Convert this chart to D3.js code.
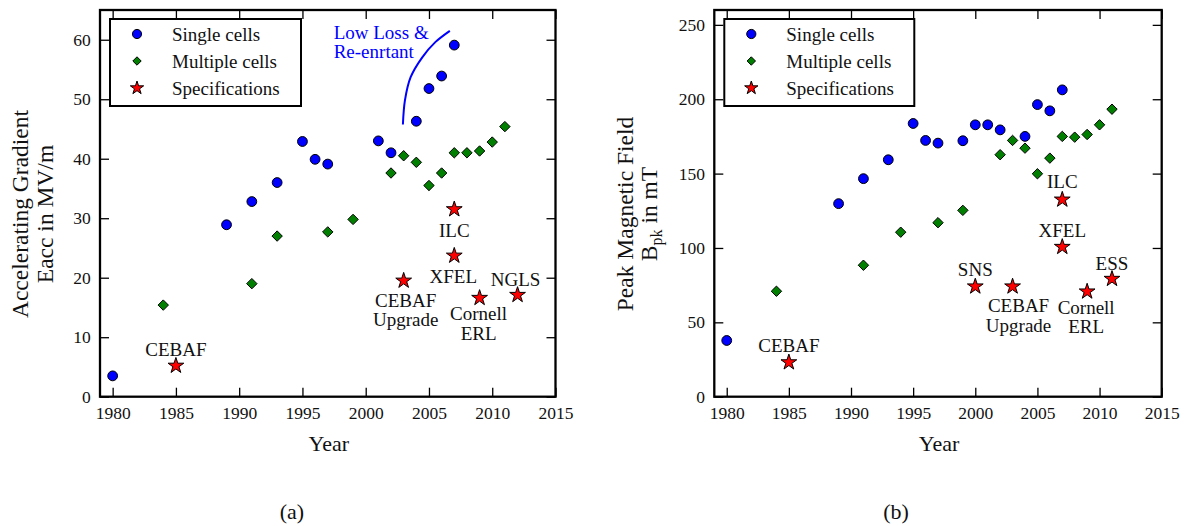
<!DOCTYPE html>
<html>
<head>
<meta charset="utf-8">
<script src="https://cdn.jsdelivr.net/npm/d3@7"></script>
<style>
  body { margin: 0; background: #fff; }
  svg { display: block; }
</style>
</head>
<body>
<svg id="chart" width="1184" height="526"></svg>
<script>
// ---- Panel (a): accelerating gradient, MV/m ----
const singleYearsA = [1980, 1989, 1991, 1993, 1995, 1996, 1997, 2001, 2002, 2004, 2005, 2006, 2007];
const singleEacc   = [3.5, 28.9, 32.8, 36.0, 42.9, 39.9, 39.1, 43.0, 41.0, 46.3, 51.8, 53.9, 59.1];
const multiYearsA  = [1984, 1991, 1993, 1997, 1999, 2002, 2003, 2004, 2005, 2006, 2007, 2008, 2009, 2010, 2011];
const multiEacc    = [15.4, 19.0, 27.0, 27.7, 29.8, 37.6, 40.5, 39.4, 35.5, 37.6, 41.0, 41.0, 41.3, 42.8, 45.4];
const specNamesA   = [["CEBAF"], ["CEBAF", "Upgrade"], ["ILC"], ["XFEL"], ["Cornell", "ERL"], ["NGLS"]];
const specYearsA   = [1985, 2003, 2007, 2007, 2009, 2012];
const specEacc     = [5.2, 19.5, 31.5, 23.7, 16.6, 17.1];
const yTicksA      = [0, 10, 20, 30, 40, 50, 60];

// "Low Loss & Re-entrant" trend arc, in data units
const arcYears = [2002.94, 2003.1, 2003.55, 2004.47, 2005.5, 2006.65];
const arcEacc  = [45.75, 49.8, 53.7, 57.05, 59.6, 61.5];
const arcText  = ["Low Loss &", "Re-enrtant"];

// ---- Panel (b): peak magnetic field, mT ----
const singleYearsB = [1980, 1989, 1991, 1993, 1995, 1996, 1997, 1999, 2000, 2001, 2002, 2004, 2005, 2006, 2007];
const singleBpk    = [37.8, 129.8, 146.6, 159.3, 183.7, 172.3, 170.5, 172.1, 182.8, 182.8, 179.4, 175.0, 196.4, 192.2, 206.3];
const multiYearsB  = [1984, 1991, 1994, 1997, 1999, 2002, 2003, 2004, 2005, 2006, 2007, 2008, 2009, 2010, 2011];
const multiBpk     = [70.9, 88.4, 110.6, 117.0, 125.3, 162.7, 172.3, 167.1, 149.9, 160.4, 175.0, 174.5, 176.3, 182.8, 193.3];
const specNamesB   = [["CEBAF"], ["SNS"], ["CEBAF", "Upgrade"], ["ILC"], ["XFEL"], ["Cornell", "ERL"], ["ESS"]];
const specYearsB   = [1985, 2000, 2003, 2007, 2007, 2009, 2011];
const specBpk      = [23.1, 74.1, 74.1, 132.5, 100.7, 70.7, 79.2];
const yTicksB      = [0, 50, 100, 150, 200, 250];

const xTicks = [1980, 1985, 1990, 1995, 2000, 2005, 2010, 2015];
const legendNames = ["Single cells", "Multiple cells", "Specifications"];

// ---- Layout ----
const labelOffsetsA = [[0, -10], [2, 26], [0, 27.5], [-1, 27.5], [-1, 22.5], [-2, -8.5]];
const labelOffsetsB = [[0, -10], [0, -10.5], [6, 26], [0, -12], [0, -10], [-1, 22], [0, -9]];

const FONT = "Liberation Serif";
const COLORS = { single: "#0000ff", multi: "#007f00", spec: "#ff0000" };
const svg = d3.select("#chart");

const circlePath  = r => d3.symbol(d3.symbolCircle, Math.PI * r * r)();
const diamondPath = h => `M0,${-h}L${h},0L0,${h}L${-h},0Z`;
const starPath    = r => d3.symbol(d3.symbolStar, r * r / 0.8908130915292852)();

// every text element gets the serif face explicitly
const label = (parent, size) => parent.append("text")
  .attr("font-family", FONT).attr("font-size", size).attr("fill", "#111");

function drawPanel(cfg) {
  const g = svg.append("g");
  const x = d3.scaleLinear().domain([1979, 2015]).range([cfg.x0, cfg.x1]);
  const y = d3.scaleLinear().domain([0, cfg.ymax]).range([cfg.y1, cfg.y0]);

  // axes with inward ticks on all four sides
  const tickStyle = sel => {
    sel.attr("font-family", FONT).attr("font-size", 17.5);
    sel.select(".domain").remove();
    sel.selectAll(".tick line").attr("stroke", "#000").attr("stroke-width", 1.3);
    sel.selectAll(".tick text").attr("fill", "#111")
      .attr("font-family", FONT).attr("font-size", 17.5);
  };
  g.append("g").attr("transform", `translate(0,${cfg.y1})`)
    .call(d3.axisBottom(x).tickValues(xTicks).tickFormat(d3.format("d"))
      .tickSizeInner(-9).tickSizeOuter(0).tickPadding(10))
    .call(tickStyle);
  g.append("g").attr("transform", `translate(0,${cfg.y0})`)
    .call(d3.axisTop(x).tickValues(xTicks).tickFormat("").tickSizeInner(-9).tickSizeOuter(0))
    .call(tickStyle);
  g.append("g").attr("transform", `translate(${cfg.x0},0)`)
    .call(d3.axisLeft(y).tickValues(cfg.yTicks).tickFormat(d3.format("d"))
      .tickSizeInner(-9).tickSizeOuter(0).tickPadding(9.3))
    .call(tickStyle);
  g.append("g").attr("transform", `translate(${cfg.x1},0)`)
    .call(d3.axisRight(y).tickValues(cfg.yTicks).tickFormat("").tickSizeInner(-9).tickSizeOuter(0))
    .call(tickStyle);

  // frame
  g.append("rect")
    .attr("x", cfg.x0).attr("y", cfg.y0)
    .attr("width", cfg.x1 - cfg.x0).attr("height", cfg.y1 - cfg.y0)
    .attr("fill", "none").attr("stroke", "#000").attr("stroke-width", 2.3);

  // axis titles
  label(g, 22).attr("x", (cfg.x0 + cfg.x1) / 2 + 1).attr("y", 451)
    .attr("text-anchor", "middle").text("Year");
  const yt = label(g, 23.5)
    .attr("transform", `translate(${cfg.ylabX},${cfg.ylabY}) rotate(-90)`)
    .attr("text-anchor", "middle");
  yt.append("tspan").attr("x", 0).attr("y", 0).text(cfg.ylab1);
  const l2 = yt.append("tspan").attr("x", 0).attr("y", cfg.ylabGap);
  cfg.ylab2(l2);

  // panel caption
  label(g, 22).attr("x", cfg.capX).attr("y", 519)
    .attr("text-anchor", "middle").text(cfg.caption);

  // markers
  const pts = g.append("g");
  pts.selectAll("path.multi").data(d3.zip(cfg.multiYears, cfg.multiVals)).join("path")
    .attr("class", "multi")
    .attr("d", diamondPath(5.2))
    .attr("transform", d => `translate(${x(d[0])},${y(d[1])})`)
    .attr("fill", COLORS.multi).attr("stroke", "#000").attr("stroke-width", 1);
  pts.selectAll("path.single").data(d3.zip(cfg.singleYears, cfg.singleVals)).join("path")
    .attr("class", "single")
    .attr("d", circlePath(4.9))
    .attr("transform", d => `translate(${x(d[0])},${y(d[1])})`)
    .attr("fill", COLORS.single).attr("stroke", "#000").attr("stroke-width", 1);
  pts.selectAll("path.spec").data(d3.zip(cfg.specYears, cfg.specVals)).join("path")
    .attr("class", "spec")
    .attr("d", starPath(8.3))
    .attr("transform", d => `translate(${x(d[0])},${y(d[1])})`)
    .attr("fill", COLORS.spec).attr("stroke", "#000").attr("stroke-width", 1);

  // specification labels
  cfg.specNames.forEach((lines, i) => {
    const [dx, dy] = cfg.labelOffsets[i];
    const t = label(g, 19).attr("text-anchor", "middle");
    lines.forEach((ln, j) => {
      t.append("tspan")
        .attr("x", x(cfg.specYears[i]) + dx)
        .attr("y", y(cfg.specVals[i]) + dy + j * 19.5)
        .text(ln);
    });
  });

  // legend
  const lx = cfg.x0 + 10, ly = cfg.y0 + 9;
  const lg = g.append("g");
  lg.append("rect").attr("x", lx).attr("y", ly).attr("width", cfg.legendW).attr("height", 87)
    .attr("fill", "#fff").attr("stroke", "#000").attr("stroke-width", 2);
  const legendMarks = [
    [circlePath(4.6), COLORS.single],
    [diamondPath(4.2), COLORS.multi],
    [starPath(7), COLORS.spec]
  ];
  legendNames.forEach((name, i) => {
    const ry = ly + 15 + i * 27;
    lg.append("path").attr("d", legendMarks[i][0])
      .attr("transform", `translate(${lx + 27},${ry})`)
      .attr("fill", legendMarks[i][1]).attr("stroke", "#000").attr("stroke-width", 1);
    label(lg, 19).attr("x", lx + 62).attr("y", ry + 6.5).text(name);
  });

  return { g, x, y };
}

const A = drawPanel({
  x0: 100, x1: 555.5, y0: 10, y1: 396.7, ymax: 65, yTicks: yTicksA,
  singleYears: singleYearsA, singleVals: singleEacc,
  multiYears: multiYearsA, multiVals: multiEacc,
  specYears: specYearsA, specVals: specEacc, specNames: specNamesA, labelOffsets: labelOffsetsA,
  ylab1: "Accelerating Gradient", ylabX: 28, ylabY: 214, ylabGap: 25,
  ylab2: t => t.text("Eacc in MV/m"),
  caption: "(a)", capX: 292, legendW: 191
});

// trend annotation on panel (a)
A.g.append("path")
  .datum(d3.zip(arcYears, arcEacc))
  .attr("d", d3.line().x(d => A.x(d[0])).y(d => A.y(d[1])).curve(d3.curveCatmullRom))
  .attr("fill", "none").attr("stroke", COLORS.single).attr("stroke-width", 2);
const at = label(A.g, 19).attr("fill", COLORS.single);
arcText.forEach((ln, j) => {
  at.append("tspan").attr("x", A.x(1997.47)).attr("y", A.y(60.2) + j * 19).text(ln);
});

drawPanel({
  x0: 714.3, x1: 1161.7, y0: 10, y1: 396.7, ymax: 260, yTicks: yTicksB,
  singleYears: singleYearsB, singleVals: singleBpk,
  multiYears: multiYearsB, multiVals: multiBpk,
  specYears: specYearsB, specVals: specBpk, specNames: specNamesB, labelOffsets: labelOffsetsB,
  ylab1: "Peak Magnetic Field", ylabX: 633, ylabY: 214, ylabGap: 24,
  ylab2: t => {
    t.append("tspan").text("B");
    t.append("tspan").attr("dy", 5).attr("font-size", 16).text("pk");
    t.append("tspan").attr("dy", -5).text(" in mT");
  },
  caption: "(b)", capX: 896, legendW: 190
});
</script>
</body>
</html>
